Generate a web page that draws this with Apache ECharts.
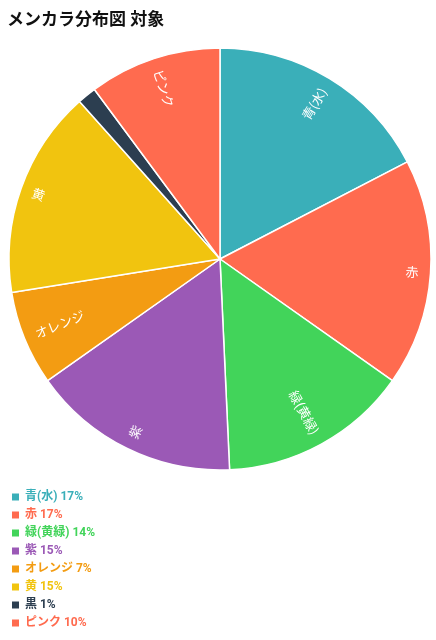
<!DOCTYPE html>
<html>
<head>
<meta charset="utf-8">
<script src="https://cdn.jsdelivr.net/npm/echarts@6/dist/echarts.min.js"></script>
<style>
html,body{margin:0;padding:0;background:#fff;}
#main{width:436px;height:640px;}
</style>
</head>
<body>
<div id="main"></div>
<script>
// メンカラ分布図のデータ
var names = ['青(水)', '赤', '緑(黄緑)', '紫', 'オレンジ', '黄', '黒', 'ピンク'];
var counts = [12, 12, 10, 11, 5, 11, 1, 7];
var colors = ['#3aafb9', '#ff6b4f', '#42d45a', '#9b59b6', '#f39c12', '#f1c40f', '#2c3e50', '#ff6b4f'];

var total = 0;
for (var i = 0; i < counts.length; i++) total += counts[i];

// 各スライスが右半分か左半分か（ラベルの寄せ方向）
var rightSide = [];
var acc = 0;
for (var i = 0; i < counts.length; i++) {
	rightSide[i] = (acc + counts[i] / 2) < total / 2;
	acc += counts[i];
}

var pieData = [];
var legendData = [];
for (var i = 0; i < names.length; i++) {
	pieData.push({name: names[i], value: counts[i]});
	legendData.push({name: names[i], textStyle: {color: colors[i]}});
}

var myChart = echarts.init(document.getElementById('main'));
myChart.setOption({
	color: colors,
	animation: false,
	textStyle: {fontFamily: 'Roboto, "Noto Sans CJK JP", sans-serif'},
	title: {
		text: 'メンカラ分布図 対象',
		left: 2,
		top: 7,
		textStyle: {fontSize: 17, fontWeight: 'bold', color: '#111'}
	},
	legend: {
		orient: 'vertical',
		left: 5,
		top: 486,
		icon: 'rect',
		itemWidth: 9,
		itemHeight: 9,
		itemGap: 6,
		textStyle: {fontSize: 12, fontWeight: 'bold'},
		formatter: function(name) {
			var idx = names.indexOf(name);
			return name + ' ' + Math.floor(counts[idx] / total * 100) + '%';
		},
		data: legendData
	},
	series: [{
		name: 'メンカラ',
		type: 'pie',
		center: [220, 259],
		radius: [0, 211],
		startAngle: 90,
		label: {show: false},
		labelLine: {show: false},
		itemStyle: {borderColor: '#fff', borderWidth: 1.5},
		emphasis: {disabled: true},
		data: pieData
	}, {
		// ラベル用の透明な外周リング
		name: 'ラベル',
		type: 'pie',
		center: [220, 259],
		radius: [181, 211],
		startAngle: 90,
		silent: true,
		minShowLabelAngle: 10,
		itemStyle: {color: 'rgba(0,0,0,0)', borderWidth: 0},
		label: {
			show: true,
			position: 'inside',
			rotate: 'radial',
			color: '#fff',
			fontSize: 13,
			fontFamily: '"Noto Sans CJK JP", sans-serif',
			formatter: '{b}'
		},
		labelLine: {show: false},
		labelLayout: function(params) {
			return {align: rightSide[params.dataIndex] ? 'right' : 'left'};
		},
		emphasis: {disabled: true},
		data: pieData
	}]
});
</script>
</body>
</html>
